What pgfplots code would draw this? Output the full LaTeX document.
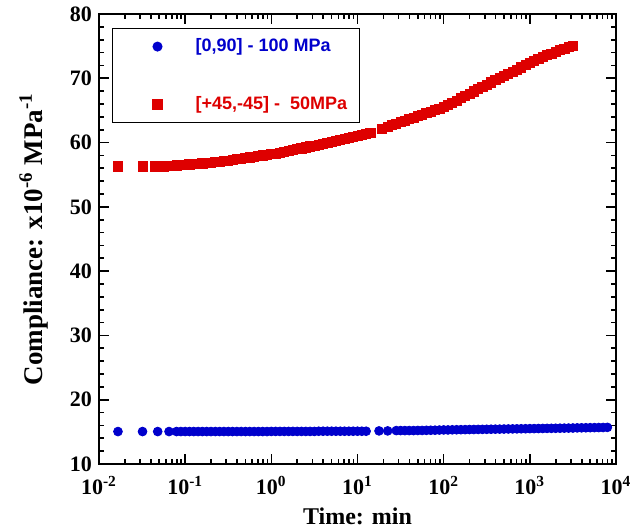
\documentclass[border=0pt]{standalone}
\usepackage{pgfplots}
\pgfplotsset{compat=1.18}
\usepackage{fontspec}
\setmainfont{Liberation Serif}
\setsansfont{Liberation Sans}
\definecolor{myblue}{RGB}{0,0,204}
\definecolor{myred}{RGB}{222,0,0}
\pgfplotsset{myimg/.style={legend image code/.code={\path[draw=none,fill=none] (0cm,-0.1cm) rectangle (1.25cm,0.1cm); \draw[##1] plot coordinates {(0.65cm,0cm)};}}}
\begin{document}
\begin{tikzpicture}
\useasboundingbox (-49.5pt,-31.5pt) rectangle (268.5pt,232pt);
\begin{axis}[
  scale only axis, width=258.5pt, height=225pt,
  xmode=log, xmin=0.01, xmax=10000, ymin=10, ymax=80,
  xtick={0.01,0.1,1,10,100,1000,10000},
  xticklabels={10\textsuperscript{-2},10\textsuperscript{-1},10\textsuperscript{0},10\textsuperscript{1},10\textsuperscript{2},10\textsuperscript{3},10\textsuperscript{4}},
  ytick={10,20,30,40,50,60,70,80},
  minor y tick num=4,
  axis line style={line width=1pt},
  major tick length=5pt, minor tick length=2.5pt,
  tick style={line width=0.8pt, black},
  /pgf/number format/assume math mode=true,
  tick label style={font=\fontsize{11}{12}\selectfont\bfseries},
  xticklabel style={yshift=-2.5pt},
  xlabel={Time: min},
  ylabel={Compliance: x10\textsuperscript{-6} MPa\textsuperscript{-1}},
  xlabel style={font=\fontsize{12}{14}\selectfont\bfseries},
  ylabel style={font=\fontsize{13.5}{15}\selectfont\bfseries, yshift=4pt},
  legend style={at={(0.025,0.969)}, anchor=north west, draw=black, line width=0.6pt,
    font=\fontsize{9}{10.5}\selectfont\sffamily\bfseries, row sep=17pt,
    inner xsep=4pt, inner ysep=3pt, cells={anchor=west}},
]
\addplot[only marks, mark=*, mark size=2.2pt, color=myblue, mark options={draw=myblue, fill=myblue}, myimg] coordinates {
(0.0166,15.05) (0.032,15.05) (0.048,15.05) (0.065,15.05)
(0.07943,15.05) (0.08913,15.05) (0.1,15.05) (0.1122,15.05) (0.1259,15.05) (0.1413,15.05)
(0.1585,15.05) (0.1778,15.05) (0.1995,15.05) (0.2239,15.05) (0.2512,15.05) (0.2818,15.05)
(0.3162,15.05) (0.3548,15.05) (0.3981,15.05) (0.4467,15.05) (0.5012,15.05) (0.5623,15.05)
(0.6310,15.05) (0.7079,15.05) (0.7943,15.05) (0.8913,15.05)
(1,15.07) (1.122,15.07) (1.259,15.07) (1.413,15.07) (1.585,15.07) (1.778,15.07)
(1.995,15.07) (2.239,15.07) (2.512,15.07) (2.818,15.07) (3.162,15.07)
(3.548,15.1) (3.981,15.1) (4.467,15.1) (5.012,15.1) (5.623,15.1) (6.310,15.1)
(7.079,15.1) (7.943,15.1) (8.913,15.1) (10,15.1) (11.22,15.1) (12.59,15.1)
(17.78,15.15) (22.39,15.15)
(28.18,15.2) (31.62,15.2) (35.48,15.2) (39.81,15.2) (44.67,15.2) (50.12,15.22)
(56.23,15.22) (63.10,15.24) (70.79,15.25) (79.43,15.26) (89.13,15.28)
(100,15.3) (112.2,15.3) (125.9,15.32) (141.3,15.33) (158.5,15.34) (177.8,15.35)
(199.5,15.36) (223.9,15.37) (251.2,15.38) (281.8,15.39)
(316.2,15.4) (354.8,15.41) (398.1,15.42) (446.7,15.43) (501.2,15.44) (562.3,15.45)
(631.0,15.46) (707.9,15.47) (794.3,15.48) (891.3,15.49)
(1000,15.5) (1122,15.51) (1259,15.52) (1413,15.53) (1585,15.54) (1778,15.55)
(1995,15.56) (2239,15.57) (2512,15.58) (2818,15.59)
(3162,15.6) (3548,15.62) (3981,15.63) (4467,15.64) (5012,15.65) (5623,15.66)
(6310,15.67) (7079,15.68) (7943,15.7)
};
\addlegendentry{\textcolor{myblue}{[0,90] - 100 MPa}}
\addplot[only marks, mark=square*, mark size=2.3pt, color=myred, mark options={draw=myred, fill=myred}, myimg] coordinates {
(0.0166,56.3) (0.032,56.3)
(0.04467,56.3) (0.05012,56.3) (0.05623,56.3) (0.06310,56.35) (0.07079,56.4) (0.07943,56.45)
(0.08913,56.5) (0.1,56.5) (0.1122,56.6) (0.1259,56.65) (0.1413,56.7) (0.1585,56.75)
(0.1778,56.8) (0.1995,56.9) (0.2239,56.95) (0.2512,57.0) (0.2818,57.1) (0.3162,57.2)
(0.3548,57.3) (0.3981,57.4) (0.4467,57.5) (0.5012,57.6) (0.5623,57.7) (0.6310,57.8)
(0.7079,57.9) (0.7943,58.0) (0.8913,58.1) (1,58.2) (1.122,58.3) (1.259,58.45)
(1.413,58.6) (1.585,58.7) (1.778,58.85) (1.995,59.0) (2.239,59.1) (2.512,59.25)
(2.818,59.4) (3.162,59.5) (3.548,59.65) (3.981,59.8) (4.467,59.95) (5.012,60.1)
(5.623,60.25) (6.310,60.4) (7.079,60.55) (7.943,60.7) (8.913,60.85) (10,61.0)
(11.22,61.15) (12.59,61.3) (14.13,61.45)
(19.05,62.1) (22.39,62.45) (25.12,62.7) (28.18,62.95) (31.62,63.2) (35.48,63.4)
(39.81,63.65) (44.67,63.85) (50.12,64.1) (56.23,64.35) (63.10,64.6) (70.79,64.8)
(79.43,65.05) (89.13,65.25) (100,65.5) (112.2,65.85) (125.9,66.2) (141.3,66.5)
(158.5,66.9) (177.8,67.25) (199.5,67.6) (223.9,67.95) (251.2,68.3) (281.8,68.65)
(316.2,69.0) (354.8,69.35) (398.1,69.7) (446.7,70.0) (501.2,70.35) (562.3,70.7)
(631.0,71.0) (707.9,71.35) (794.3,71.7) (891.3,72.05) (1000,72.4) (1122,72.7)
(1259,73.0) (1413,73.3) (1585,73.6) (1778,73.85) (1995,74.1) (2239,74.4)
(2512,74.6) (2818,74.85) (3162,75.1)
};
\addlegendentry{\textcolor{myred}{[+45,-45] -\ \ 50MPa}}
\end{axis}
\end{tikzpicture}
\end{document}
